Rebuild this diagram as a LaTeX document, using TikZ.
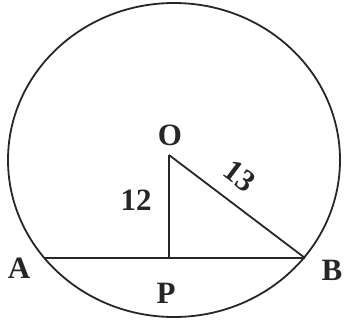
\documentclass[tikz,border=0pt]{standalone}
\usepackage{fontspec}
\setmainfont{Liberation Serif}
\begin{document}
\begin{tikzpicture}[x=1pt,y=-1pt,
  lbl/.style={font=\fontsize{31pt}{31pt}\selectfont\bfseries, inner sep=0pt, text=black!85},
  ln/.style={line width=1.8pt, black!85}]
\useasboundingbox (0,0) rectangle (345,322);
\coordinate (C) at (174,160);
\coordinate (O) at (169,155);
\coordinate (P) at (169,258);
\coordinate (A) at (45,258);
\coordinate (B) at (305,258);
\draw[ln] (C) ellipse [x radius=166, y radius=157];
\draw[ln] (A) -- (B);
\draw[ln] (O) -- (P);
\draw[ln] (O) -- (B);
\node[lbl] (lO) at (170,135) {O};
\node[lbl] (lA) at (19,268) {A};
\node[lbl] (lB) at (332,270) {B};
\node[lbl] (lP) at (166,293) {P};
\node[lbl] (l12) at (136,200) {12};
\node[lbl, rotate=-37] (l13) at (240,176) {13};
\end{tikzpicture}
\end{document}
